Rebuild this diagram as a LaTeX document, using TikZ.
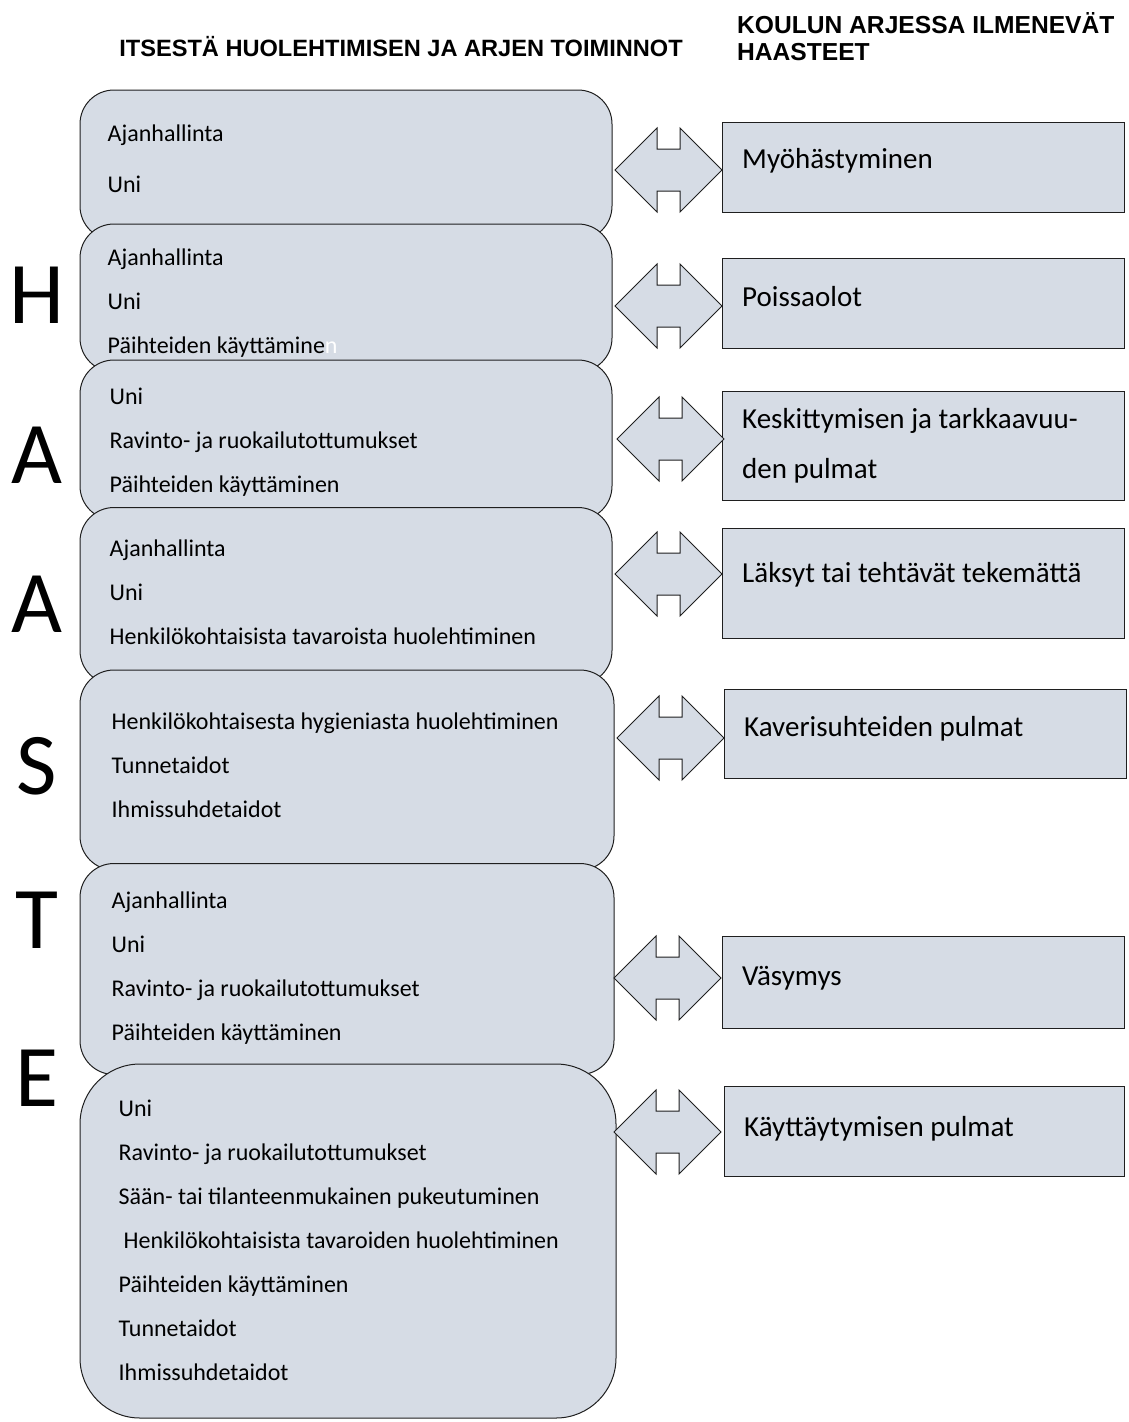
\documentclass[tikz,border=0pt]{standalone}
\usepackage{fontspec}
\setmainfont{Carlito}
\newfontfamily\headfont{Liberation Sans}
\usetikzlibrary{positioning}
\definecolor{boxfill}{HTML}{D6DCE5}
\definecolor{boxline}{HTML}{1F1F1F}

\tikzset{
	listbox/.style={draw=boxline, fill=boxfill, line width=1pt, rounded corners=34pt, minimum width=532pt},
	listtext/.style={align=left, inner sep=0pt, font=\fontsize{24}{44}\selectfont},
	probbox/.style={draw=boxline, fill=boxfill, line width=1pt, minimum width=402pt, minimum height=90pt},
	probtext/.style={anchor=west, align=left, inner sep=0pt, font=\fontsize{29}{50}\selectfont},
	twoway/.style={draw=boxline, fill=boxfill, line width=1pt, line join=miter},
	bigletter/.style={font=\fontsize{88}{88}\selectfont, inner sep=0pt},
	head/.style={font=\headfont\bfseries\fontsize{23.6}{27}\selectfont, align=left, inner sep=0pt}
}

\newcommand{\twoway}[1]{\draw[twoway] (#1) -- ++(42,-42) -- ++(0,21) -- ++(23,0) -- ++(0,-21) -- ++(42,42) -- ++(-42,42) -- ++(0,-21) -- ++(-23,0) -- ++(0,21) -- cycle;}

\begin{document}
\begin{tikzpicture}[x=1pt, y=-1pt]
	
	\useasboundingbox (0,0) rectangle (1128,1422);
	
	% otsikot
	\node[head] (hleft) at (401,47) {ITSESTÄ HUOLEHTIMISEN JA ARJEN TOIMINNOT};
	\node[head, anchor=north west, font=\headfont\bfseries\fontsize{24.6}{27}\selectfont] (hright) at (737,12) {KOULUN ARJESSA ILMENEVÄT\\HAASTEET};
	
	% HAASTE
	\node[bigletter] (lH) at (37,295) {H};
	\node[bigletter] (lA1) at (37,455) {A};
	\node[bigletter] (lA2) at (37,604) {A};
	\node[bigletter] (lS) at (37,766) {S};
	\node[bigletter] (lT) at (37,920) {T};
	\node[bigletter] (lE) at (37,1078) {E};
	
	% toiminnot
	\node[listbox, minimum height=150pt] (b1) at (346,165) {};
	\node[listtext, right=28pt of b1.west, yshift=6.5pt, font=\fontsize{24}{51}\selectfont] (i1) {Ajanhallinta\\Uni};
	\node[listbox, minimum height=148pt] (b2) at (346,298) {};
	\node[listtext, right=28pt of b2.west, yshift=-5pt] (i2) {Ajanhallinta\\Uni\\Päihteiden käyttämine\textcolor{white}{n}};
	\node[listbox, minimum height=160pt] (b3) at (346,440) {};
	\node[listtext, right=30pt of b3.west, yshift=-2pt] (i3) {Uni\\Ravinto- ja ruokailutottumukset\\Päihteiden käyttäminen};
	\node[listbox, minimum height=177pt] (b4) at (346,596) {};
	\node[listtext, right=30pt of b4.west, yshift=4pt] (i4) {Ajanhallinta\\Uni\\Henkilökohtaisista tavaroista huolehtiminen};
	\node[listbox, minimum height=200pt, minimum width=534pt] (b5) at (347,770) {};
	\node[listtext, right=32pt of b5.west, yshift=5pt] (i5) {Henkilökohtaisesta hygieniasta huolehtiminen\\Tunnetaidot\\Ihmissuhdetaidot};
	\node[listbox, minimum height=211pt, minimum width=534pt] (b6) at (347,969) {};
	\node[listtext, right=32pt of b6.west, yshift=1pt] (i6) {Ajanhallinta\\Uni\\Ravinto- ja ruokailutottumukset\\Päihteiden käyttäminen};
	\node[listbox, minimum height=354pt, minimum width=536pt, rounded corners=60pt] (b7) at (348,1241) {};
	\node[listtext, right=39pt of b7.west, yshift=1pt] (i7) {Uni\\Ravinto- ja ruokailutottumukset\\Sään- tai tilanteenmukainen pukeutuminen\\\hspace{5pt}Henkilökohtaisista tavaroiden huolehtiminen\\Päihteiden käyttäminen\\Tunnetaidot\\Ihmissuhdetaidot};
	
	% haasteet
	\node[probbox] (r1) at (923,167) {};
	\node[probbox] (r2) at (923,303) {};
	\node[probbox, minimum height=109pt] (r3) at (923,446) {};
	\node[probbox, minimum height=110pt] (r4) at (923,583) {};
	\node[probbox, minimum height=89pt] (r5) at (925,734) {};
	\node[probbox, minimum height=92pt] (r6) at (923,982) {};
	\node[probbox, minimum width=400pt] (r7) at (924,1131) {};
	
	\node[probtext] (t1) at (742,161) {Myöhästyminen};
	\node[probtext] (t2) at (742,297) {Poissaolot};
	\node[probtext] (t3) at (742,446) {Keskittymisen ja tarkkaavuu-\\den pulmat};
	\node[probtext] (t4) at (742,575) {Läksyt tai tehtävät tekemättä};
	\node[probtext] (t5) at (744,729) {Kaverisuhteiden pulmat};
	\node[probtext] (t6) at (742,978) {Väsymys};
	\node[probtext] (t7) at (744,1129) {Käyttäytymisen pulmat};
	
	% nuolet
	\coordinate (a1) at (615,170);
	\coordinate (a2) at (615,306);
	\coordinate (a3) at (617,439);
	\coordinate (a4) at (615,574);
	\coordinate (a5) at (617,738);
	\coordinate (a6) at (614,978);
	\coordinate (a7) at (614,1132);
	\foreach \i in {1,...,7} {\twoway{a\i}}
	
\end{tikzpicture}
\end{document}
